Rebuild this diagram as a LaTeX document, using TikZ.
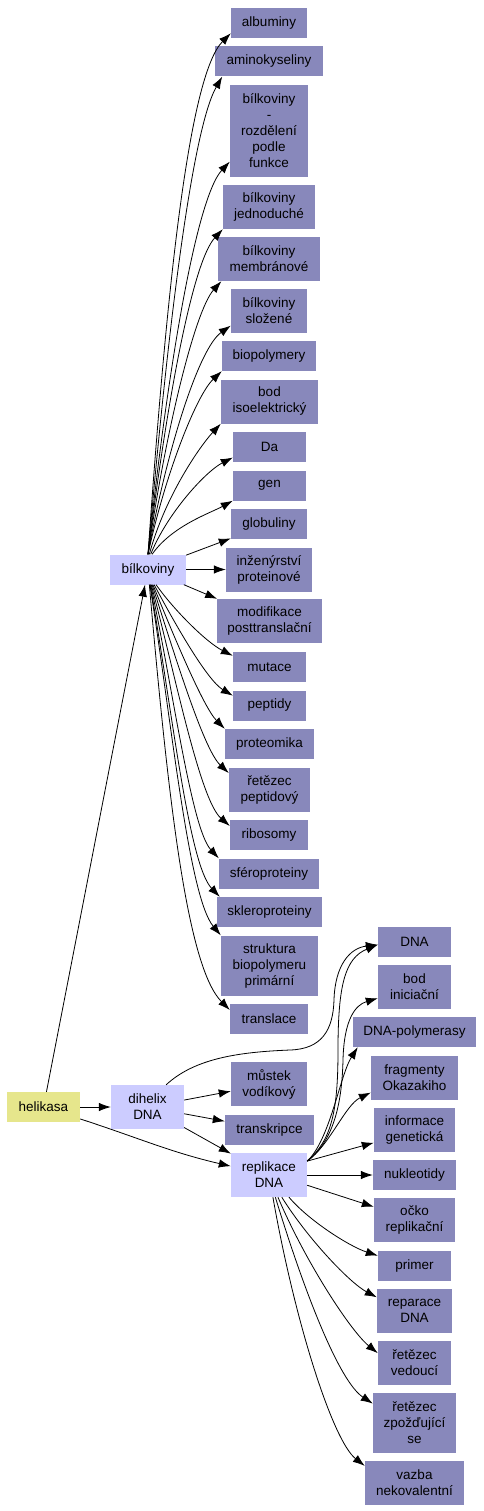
\documentclass[tikz,border=0pt]{standalone}
\usepackage{fontspec}
\setmainfont{Liberation Sans}
\usetikzlibrary{arrows.meta}
\definecolor{termblue}{RGB}{136,136,187}
\definecolor{hubblue}{RGB}{204,204,255}
\definecolor{rootyellow}{RGB}{230,230,140}

\begin{document}
\begin{tikzpicture}[
    x=1bp, y=1bp,
    box/.style={fill=termblue, minimum height=30bp, inner sep=0pt, align=center, font=\fontsize{13.5bp}{16bp}\selectfont},
    hub/.style={box, fill=hubblue},
    root/.style={box, fill=rootyellow},
    two/.style={minimum height=44bp},
    three/.style={minimum height=60bp},
    five/.style={minimum height=92bp},
    arr/.style={-{Latex[length=12bp, width=8.5bp]}, line width=0.8bp}
]
\useasboundingbox (0,0) rectangle (484,-1511);

% hubs
\node[root, minimum width=73bp] (helikasa) at (43.5,-1107) {helikasa};
\node[hub, minimum width=76bp] (bilkoviny) at (148,-569.5) {bílkoviny};
\node[hub, two, minimum width=73bp] (dihelix) at (147.5,-1107) {dihelix\\DNA};
\node[hub, two, minimum width=76bp] (replikace) at (269,-1175) {replikace\\DNA};

% bílkoviny column
\node[box, minimum width=76bp] (albuminy) at (269,-23) {albuminy};
\node[box, minimum width=108bp] (aminokyseliny) at (269,-61.5) {aminokyseliny};
\node[box, five, minimum width=78bp] (rozdeleni) at (269,-131) {bílkoviny\\-\\rozdělení\\podle\\funkce};
\node[box, two, minimum width=92bp] (jednoduche) at (269,-207) {bílkoviny\\jednoduché};
\node[box, two, minimum width=102bp] (membranove) at (269,-259) {bílkoviny\\membránové};
\node[box, two, minimum width=76bp] (slozene) at (269,-311) {bílkoviny\\složené};
\node[box, minimum width=94bp] (biopolymery) at (269,-356) {biopolymery};
\node[box, two, minimum width=97bp] (isoelektricky) at (269.5,-401.5) {bod\\isoelektrický};
\node[box, minimum width=73bp] (da) at (269.5,-447) {Da};
\node[box, minimum width=73bp] (gen) at (269.5,-485.5) {gen};
\node[box, minimum width=76bp] (globuliny) at (269,-524) {globuliny};
\node[box, two, minimum width=86bp] (inzenyrstvi) at (269,-569.5) {inženýrství\\proteinové};
\node[box, two, minimum width=105bp] (modifikace) at (269.5,-621) {modifikace\\posttranslační};
\node[box, minimum width=73bp] (mutace) at (269.5,-667) {mutace};
\node[box, minimum width=73bp] (peptidy) at (269.5,-705.5) {peptidy};
\node[box, minimum width=89bp] (proteomika) at (269.5,-744) {proteomika};
\node[box, two, minimum width=81bp] (peptidovy) at (269.5,-789.5) {řetězec\\peptidový};
\node[box, minimum width=78bp] (ribosomy) at (269,-835) {ribosomy};
\node[box, minimum width=100bp] (sferoproteiny) at (269,-873.5) {sféroproteiny};
\node[box, minimum width=105bp] (skleroproteiny) at (269.5,-912) {skleroproteiny};
\node[box, three, minimum width=97bp] (struktura) at (269.5,-965.5) {struktura\\biopolymeru\\primární};
\node[box, minimum width=78bp] (translace) at (269,-1019) {translace};

% dihelix DNA
\node[box, two, minimum width=76bp] (mustek) at (269,-1084) {můstek\\vodíkový};
\node[box, minimum width=89bp] (transkripce) at (269.5,-1129.5) {transkripce};

% replikace DNA column
\node[box, minimum width=73bp] (dna) at (414.5,-941.5) {DNA};
\node[box, two, minimum width=73bp] (iniciacni) at (414.5,-987) {bod\\iniciační};
\node[box, minimum width=123bp] (polymerasy) at (414.5,-1032) {DNA-polymerasy};
\node[box, two, minimum width=87bp] (okazaki) at (414.5,-1077.5) {fragmenty\\Okazakiho};
\node[box, two, minimum width=81bp] (informace) at (414.5,-1129.5) {informace\\genetická};
\node[box, minimum width=83bp] (nukleotidy) at (414.5,-1175) {nukleotidy};
\node[box, two, minimum width=81bp] (ocko) at (414.5,-1220) {očko\\replikační};
\node[box, minimum width=73bp] (primer) at (414.5,-1265.5) {primer};
\node[box, two, minimum width=75bp] (reparace) at (414.5,-1311) {reparace\\DNA};
\node[box, two, minimum width=73bp] (vedouci) at (414.5,-1363) {řetězec\\vedoucí};
\node[box, three, minimum width=83bp] (zpozdujici) at (414.5,-1423) {řetězec\\zpožďující\\se};
\node[box, two, minimum width=99bp] (vazba) at (414.5,-1483) {vazba\\nekovalentní};

% helikasa
\draw[arr] (helikasa) -- (bilkoviny);
\draw[arr] (helikasa) -- (dihelix);
\draw[arr] (helikasa) to[out=-18, in=167] (replikace);

% bílkoviny, upwards
\draw[arr] (bilkoviny.north) .. controls +(86:260) and +(225:60) .. (albuminy.195);
\draw[arr] (bilkoviny.north) .. controls +(85:230) and +(240:60) .. (aminokyseliny.198);
\draw[arr] (bilkoviny.north) .. controls +(84:180) and +(227:50) .. (rozdeleni.218);
\draw[arr] (bilkoviny.north) .. controls +(83:150) and +(227:45) .. (jednoduche.south west);
\draw[arr] (bilkoviny.north) .. controls +(82:120) and +(228:40) .. (membranove.205);
\draw[arr] (bilkoviny.north) .. controls +(80:100) and +(215:40) .. (slozene.201);
\draw[arr] (bilkoviny.north) .. controls +(78:80) and +(223:35) .. (biopolymery.south west);
\draw[arr] (bilkoviny.85) .. controls +(75:60) and +(227:30) .. (isoelektricky.south west);
\draw[arr] (bilkoviny.80) .. controls +(68:45) and +(207:30) .. (da.196);
\draw[arr] (bilkoviny.75) .. controls +(55:35) and +(209:25) .. (gen.south west);
\draw[arr] (bilkoviny) -- (globuliny);
\draw[arr] (bilkoviny) -- (inzenyrstvi);
\draw[arr] (bilkoviny) -- (modifikace);

% bílkoviny, downwards
\draw[arr] (bilkoviny.-62) .. controls +(-55:30) and +(153:30) .. (mutace.163);
\draw[arr] (bilkoviny.-68) .. controls +(-62:45) and +(149:30) .. (peptidy.165);
\draw[arr] (bilkoviny.-72) .. controls +(-68:55) and +(135:30) .. (proteomika.north west);
\draw[arr] (bilkoviny.-75) .. controls +(-72:70) and +(137:35) .. (peptidovy.158);
\draw[arr] (bilkoviny.-78) .. controls +(-75:90) and +(139:40) .. (ribosomy.167);
\draw[arr] (bilkoviny.-80) .. controls +(-78:110) and +(133:40) .. (sferoproteiny.north west);
\draw[arr] (bilkoviny.-82) .. controls +(-80:125) and +(134:45) .. (skleroproteiny.163);
\draw[arr] (bilkoviny.-83) .. controls +(-81:140) and +(130:50) .. (struktura.north west);
\draw[arr] (bilkoviny.-85) .. controls +(-85:220) and +(135:60) .. (translace.167);

% dihelix DNA
\draw[arr] (dihelix) -- (mustek);
\draw[arr] (dihelix) -- (transkripce);
\draw[arr] (dihelix) -- (replikace);
\draw[arr] (dihelix.50) .. controls (195,-1058) and (240,-1052) .. (290,-1050)
    .. controls (322,-1049) and (333,-1030) .. (334,-1000)
    .. controls (335,-965) and (350,-948) .. (dna.185);

% replikace DNA
\draw[arr] (replikace.20) .. controls (332,-1140) and (338,-1110) .. (338,-1050)
    .. controls (338,-985) and (345,-958) .. (dna.185);
\draw[arr] (replikace.20) .. controls (335,-1140) and (342,-1100) .. (343,-1060)
    .. controls (344,-1020) and (355,-1005) .. (iniciacni.197);
\draw[arr] (replikace.20) .. controls (330,-1140) and (340,-1075) .. (polymerasy.195);
\draw[arr] (replikace.20) .. controls (330,-1145) and (345,-1105) .. (okazaki.199);
\draw[arr] (replikace.20) -- (informace.198);
\draw[arr] (replikace) -- (nukleotidy);
\draw[arr] (replikace.-15) -- (ocko.162);
\draw[arr] (replikace.-48) .. controls +(-50:30) and +(162:30) .. (primer.165);
\draw[arr] (replikace.-60) .. controls +(-58:50) and +(152:30) .. (reparace.160);
\draw[arr] (replikace.-68) .. controls +(-67:70) and +(141:35) .. (vedouci.165);
\draw[arr] (replikace.-74) .. controls +(-73:100) and +(147:40) .. (zpozdujici.155);
\draw[arr] (replikace.-80) .. controls +(-80:130) and +(142:40) .. (vazba.161);
\end{tikzpicture}
\end{document}
